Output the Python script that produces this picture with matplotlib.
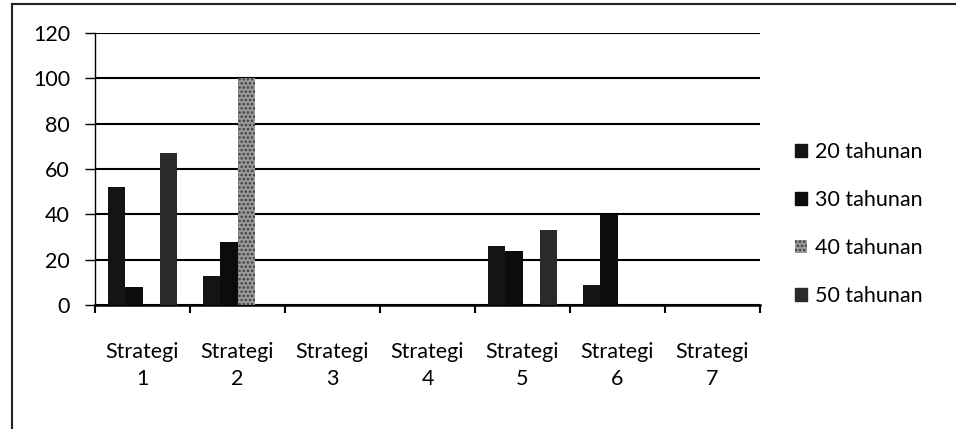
import matplotlib
matplotlib.use("Agg")
import matplotlib.pyplot as plt
from matplotlib.patches import Patch
from matplotlib.lines import Line2D
import numpy as np

plt.rcParams["font.family"] = ["Lato", "DejaVu Sans"]
plt.rcParams["hatch.linewidth"] = 1.2

categories = ["Strategi\n1", "Strategi\n2", "Strategi\n3", "Strategi\n4",
              "Strategi\n5", "Strategi\n6", "Strategi\n7"]
series_names = ["20 tahunan", "30 tahunan", "40 tahunan", "50 tahunan"]
th20 = [52, 13, 0, 0, 26, 9, 0]
th30 = [8, 28, 0, 0, 24, 40, 0]
th40 = [0, 100, 0, 0, 0, 0, 0]
th50 = [67, 0, 0, 0, 33, 0, 0]
yticks = [0, 20, 40, 60, 80, 100, 120]

fs = 15.5

fig = plt.figure(figsize=(9.56, 4.29), dpi=100)
ax = fig.add_axes([95 / 956, 1 - 305 / 429, 665 / 956, 272 / 429])

x = np.arange(len(categories))
w = 1 / 5.5
start = -0.5 + 0.75 * w
styles = [
    dict(color="#141414"),
    dict(color="#0c0c0c"),
    dict(facecolor="#9a9a9a", edgecolor="#3c3c3c", hatch="....", linewidth=0),
    dict(color="#2a2a2a"),
]
for i, vals in enumerate([th20, th30, th40, th50]):
    ax.bar(x + start + (i + 0.5) * w, vals, width=w, label=series_names[i],
           zorder=3, **styles[i])

ax.set_xlim(-0.5, 6.5)
ax.set_ylim(0, 120)
ax.set_yticks(yticks)
ax.yaxis.grid(True, color="black", linewidth=1.5, zorder=1)
ax.tick_params(axis="y", length=7, width=1, direction="out", labelsize=fs, pad=11)

# category boundaries as major ticks, labels on minor ticks
ax.set_xticks(np.arange(-0.5, 7, 1))
ax.set_xticklabels([])
ax.set_xticks(x, minor=True)
ax.set_xticklabels(categories, minor=True, fontsize=fs, linespacing=1.4)
ax.tick_params(axis="x", which="major", length=6, width=1.5, direction="out")
ax.tick_params(axis="x", which="minor", length=0, pad=27)

for s in ["top", "right"]:
    ax.spines[s].set_visible(False)
ax.spines["left"].set_linewidth(1)
ax.spines["bottom"].set_linewidth(1.8)

handles = [Patch(**styles[i], label=series_names[i]) for i in range(4)]
fig.legend(handles=handles, loc="center left", bbox_to_anchor=(776 / 956, 1 - 224 / 429),
           frameon=False, fontsize=fs, handlelength=0.55, handleheight=0.55,
           handletextpad=0.35, labelspacing=1.3)

# outer frame of the scanned chart
fig.add_artist(Line2D([12 / 956, 1], [1 - 4 / 429, 1 - 4 / 429], color="#222", lw=1.5))
fig.add_artist(Line2D([12 / 956, 12 / 956], [0, 1 - 4 / 429], color="#222", lw=1.5))

plt.savefig("out.png", dpi=100)
